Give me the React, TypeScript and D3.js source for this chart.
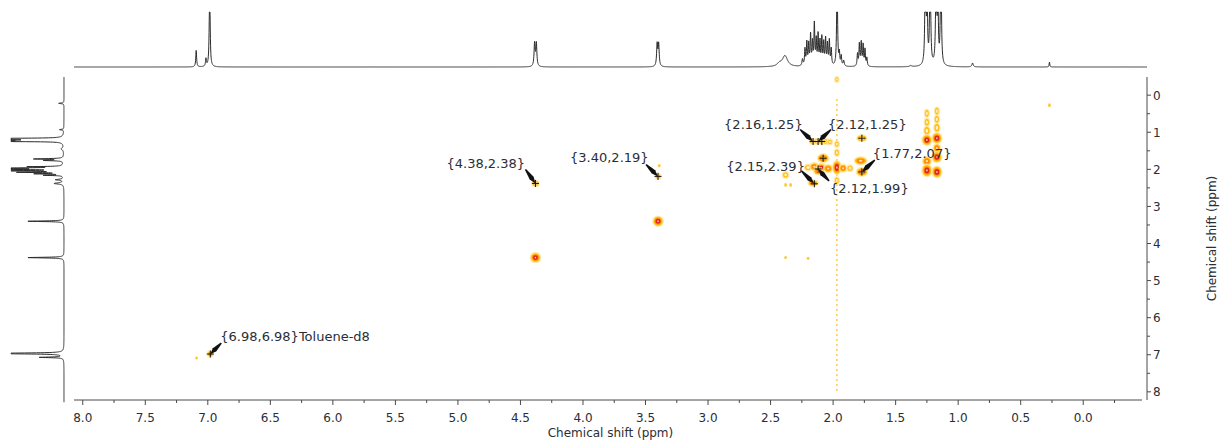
import React, { useMemo } from "react";
import * as d3 from "d3";

const W = 1226;
const H = 443;

// Chemical-shift windows (ppm): F2 runs right-to-left, F1 top-to-bottom
const f2Window: [number, number] = [8.07, -0.51];
const f1Window: [number, number] = [-0.49, 8.22];

const f2TickValues = [8.0, 7.5, 7.0, 6.5, 6.0, 5.5, 5.0, 4.5, 4.0, 3.5, 3.0, 2.5, 2.0, 1.5, 1.0, 0.5, 0.0];
const f2TickLabels = ["8.0", "7.5", "7.0", "6.5", "6.0", "5.5", "5.0", "4.5", "4.0", "3.5", "3.0", "2.5", "2.0", "1.5", "1.0", "0.5", "0.0"];
const f1TickValues = [0, 1, 2, 3, 4, 5, 6, 7, 8];
const f1TickLabels = ["0", "1", "2", "3", "4", "5", "6", "7", "8"];
const axisTitle = "Chemical shift (ppm)";

// 1H trace above the map: [shift ppm, relative height, half-width ppm]
const topTracePeaks: [number, number, number][] = [
  [7.093, 0.3, 0.004],
  [7.015, 0.14, 0.004],
  [6.985, 1.6, 0.004],
  [4.387, 0.42, 0.005],
  [4.373, 0.42, 0.005],
  [3.407, 0.4, 0.005],
  [3.395, 0.4, 0.005],
  [2.43, 0.05, 0.02],
  [2.385, 0.2, 0.025],
  [2.245, 0.12, 0.005],
  [2.225, 0.3, 0.004],
  [2.21, 0.42, 0.004],
  [2.195, 0.38, 0.004],
  [2.18, 0.55, 0.004],
  [2.165, 0.4, 0.004],
  [2.15, 0.75, 0.004],
  [2.135, 0.45, 0.004],
  [2.12, 0.55, 0.004],
  [2.105, 0.42, 0.004],
  [2.09, 0.5, 0.004],
  [2.075, 0.4, 0.004],
  [2.06, 0.48, 0.004],
  [2.045, 0.38, 0.004],
  [2.03, 0.45, 0.004],
  [2.015, 0.3, 0.004],
  [1.968, 1.8, 0.004],
  [1.95, 0.22, 0.004],
  [1.935, 0.18, 0.004],
  [1.915, 0.1, 0.005],
  [1.805, 0.22, 0.004],
  [1.79, 0.4, 0.004],
  [1.775, 0.42, 0.004],
  [1.76, 0.38, 0.004],
  [1.745, 0.3, 0.004],
  [1.73, 0.15, 0.004],
  [1.38, 0.02, 0.01],
  [1.262, 2.5, 0.004],
  [1.248, 1.2, 0.004],
  [1.224, 2.5, 0.004],
  [1.176, 2.5, 0.004],
  [1.162, 1.2, 0.004],
  [1.138, 2.5, 0.004],
  [0.885, 0.07, 0.006],
  [0.27, 0.09, 0.003],
];

// 1H trace beside the map (F1 projection): [shift ppm, relative height, half-width ppm]
const sideTracePeaks: [number, number, number][] = [
  [0.22, 0.1, 0.01],
  [0.93, 0.08, 0.01],
  [1.17, 2.5, 0.006],
  [1.19, 2.5, 0.006],
  [1.22, 2.5, 0.006],
  [1.245, 2.0, 0.006],
  [1.45, 0.05, 0.03],
  [1.72, 0.55, 0.01],
  [1.76, 0.35, 0.01],
  [1.93, 0.6, 0.008],
  [1.97, 2.0, 0.008],
  [2.0, 0.9, 0.008],
  [2.04, 1.3, 0.008],
  [2.08, 0.8, 0.008],
  [2.12, 0.5, 0.008],
  [2.16, 0.35, 0.008],
  [2.28, 0.15, 0.015],
  [2.38, 0.18, 0.02],
  [3.4, 0.68, 0.01],
  [4.38, 0.68, 0.01],
  [6.965, 2.0, 0.01],
  [7.07, 0.45, 0.01],
];

// Cross peaks of the map: [F2 ppm, F1 ppm, contour depth 0..3]
const crossPeaks: [number, number, number][] = [
  [6.98, 6.98, 2], [7.09, 7.09, 0], [4.38, 2.38, 1], [4.38, 4.38, 3],
  [3.4, 3.4, 3], [3.4, 2.19, 1], [3.39, 1.9, 0], [0.27, 0.27, 0],
  [2.38, 4.38, 0], [2.2, 4.4, 0], [1.97, -0.42, 1],
  [2.165, 1.25, 1], [2.13, 1.25, 1], [2.095, 1.25, 1], [2.06, 1.25, 1], [2.025, 1.26, 1],
  [1.77, 1.16, 1], [2.08, 1.7, 2],
  [2.2, 1.95, 1], [2.15, 1.93, 2], [2.095, 1.96, 3], [2.04, 1.98, 2], [2.12, 2.05, 2],
  [1.97, 1.95, 3], [1.92, 1.97, 2], [1.865, 1.97, 1],
  [1.78, 1.77, 2], [1.77, 2.07, 2], [2.16, 2.37, 2], [2.38, 2.15, 1],
  [2.38, 2.42, 0], [2.34, 2.42, 0],
  [1.97, 1.55, 1], [1.97, 1.32, 1], [1.97, 2.3, 1],
  [1.25, 0.49, 1], [1.25, 0.73, 1], [1.25, 0.96, 1], [1.25, 1.21, 3], [1.25, 1.78, 2], [1.25, 2.03, 3],
  [1.17, 0.43, 1], [1.17, 0.65, 1], [1.17, 0.88, 1], [1.17, 1.16, 3], [1.17, 1.43, 2], [1.17, 1.67, 3], [1.17, 2.07, 3],
];

// Half-widths of each cross peak, [F2 ppm, F1 ppm]
const crossPeakWidths: [number, number][] = [
  [0.02, 0.065], [0.008, 0.03], [0.024, 0.07], [0.036, 0.12],
  [0.036, 0.12], [0.018, 0.06], [0.008, 0.03], [0.008, 0.04],
  [0.008, 0.03], [0.008, 0.03], [0.012, 0.06],
  [0.02, 0.06], [0.02, 0.06], [0.02, 0.06], [0.018, 0.06], [0.015, 0.06],
  [0.035, 0.07], [0.04, 0.1],
  [0.025, 0.07], [0.03, 0.09], [0.035, 0.1], [0.03, 0.09], [0.03, 0.08],
  [0.03, 0.17], [0.025, 0.09], [0.02, 0.07],
  [0.045, 0.09], [0.04, 0.1], [0.035, 0.07], [0.02, 0.07],
  [0.008, 0.04], [0.008, 0.04],
  [0.015, 0.08], [0.015, 0.07], [0.015, 0.08],
  [0.014, 0.09], [0.016, 0.09], [0.02, 0.1], [0.035, 0.13], [0.03, 0.1], [0.035, 0.15],
  [0.014, 0.09], [0.016, 0.09], [0.02, 0.1], [0.035, 0.13], [0.025, 0.1], [0.035, 0.13], [0.035, 0.14],
];

// t1 noise ridge of the residual solvent line: [F2 ppm, F1 start, F1 end]
const t1Ridge: [number, number, number] = [1.97, 0.1, 8.05];

// Peak-picked positions shown with "+"
const pickedPeaks: [number, number][] = [
  [4.38, 2.38], [3.4, 2.19], [2.16, 1.25], [2.12, 1.25], [2.09, 1.25],
  [1.77, 1.16], [2.08, 1.7], [2.15, 2.39], [2.12, 1.99], [1.77, 2.07], [6.98, 6.98],
];

// Annotated cross peaks
const annotationShifts: [number, number][] = [
  [4.38, 2.38], [3.4, 2.19], [2.16, 1.25], [2.12, 1.25],
  [2.15, 2.39], [2.12, 1.99], [1.77, 2.07], [6.98, 6.98],
];
const annotationTexts = [
  "{4.38,2.38}", "{3.40,2.19}", "{2.16,1.25}", "{2.12,1.25}",
  "{2.15,2.39}", "{2.12,1.99}", "{1.77,2.07}", "{6.98,6.98}Toluene-d8",
];
// Label placement relative to the peak (px): [textDx, textDy, leaderDx, leaderDy]
const annotationLayout: [number, number, number, number][] = [
  [-89, -15, -10, -14],
  [-88, -14, -12, -12],
  [-89, -13, -13, -12],
  [10, -13, 13, -12],
  [-88, -13, -13, -13],
  [12, 24, 11, 12],
  [11, -14, 13, -12],
  [10, -13, 11, -11],
];

const FONT = "'DejaVu Sans', Verdana, sans-serif";
const TEXT = "#2a2e38";
const AXIS = "#4a4a4a";

const lorentzSum = (peaks: [number, number, number][], p: number) =>
  peaks.reduce((s, [c, h, w]) => s + h / (1 + ((p - c) / w) ** 2), 0);

function Spot({ cx, cy, rx, ry, depth }: { cx: number; cy: number; rx: number; ry: number; depth: number }) {
  if (depth === 0) {
    return <ellipse cx={cx} cy={cy} rx={rx + 0.4} ry={ry + 0.4} fill="#FFC21A" opacity={0.9} />;
  }
  return (
    <g>
      <ellipse cx={cx} cy={cy} rx={rx + 1.3} ry={ry + 1.3} fill="#FFE49A" opacity={0.85} />
      <ellipse cx={cx} cy={cy} rx={rx} ry={ry} fill="#FFBE12" />
      {depth === 1 && <ellipse cx={cx} cy={cy} rx={rx * 0.5} ry={ry * 0.55} fill="#FFF1C8" />}
      {depth >= 2 && <ellipse cx={cx} cy={cy} rx={rx * 0.72} ry={ry * 0.72} fill="#FF8A0A" />}
      {depth === 2 && <ellipse cx={cx} cy={cy} rx={rx * 0.32} ry={ry * 0.3} fill="#FFE0B0" />}
      {depth === 3 && <ellipse cx={cx} cy={cy} rx={rx * 0.55} ry={ry * 0.55} fill="#E3261C" />}
      {depth === 3 && <ellipse cx={cx} cy={cy} rx={rx * 0.18} ry={ry * 0.2} fill="#FFC9C0" />}
    </g>
  );
}

function Leader({ x0, y0, x1, y1 }: { x0: number; y0: number; x1: number; y1: number }) {
  const dx = x1 - x0;
  const dy = y1 - y0;
  const len = Math.hypot(dx, dy);
  const px = -dy / len;
  const py = dx / len;
  const mx = x0 + dx * 0.62;
  const my = y0 + dy * 0.62;
  const pts = [
    [x0 + px * 0.7, y0 + py * 0.7],
    [mx + px * 2.4, my + py * 2.4],
    [x1, y1],
    [mx - px * 2.4, my - py * 2.4],
    [x0 - px * 0.7, y0 - py * 0.7],
  ];
  return <polygon points={pts.map((p) => p.join(",")).join(" ")} fill="#111" />;
}

export default function App() {
  const x = d3.scaleLinear().domain(f2Window).range([74, 1147]);
  const y = d3.scaleLinear().domain(f1Window).range([77, 400]);
  const topH = d3.scaleLinear().domain([0, 1]).range([67, 12]).clamp(true);
  const sideH = d3.scaleLinear().domain([0, 1]).range([64, 11]).clamp(true);

  const topPath = useMemo(() => {
    const pts = d3
      .range(f2Window[0], f2Window[1] - 0.0001, -0.0012)
      .map((p) => [p, lorentzSum(topTracePeaks, p)] as [number, number]);
    return d3
      .line<[number, number]>()
      .x((d) => x(d[0]))
      .y((d) => topH(d[1]))(pts);
  }, []);

  const sidePath = useMemo(() => {
    const pts = d3
      .range(f1Window[0], f1Window[1] + 0.06, 0.002)
      .map((p) => [p, lorentzSum(sideTracePeaks, p)] as [number, number]);
    return d3
      .line<[number, number]>()
      .x((d) => sideH(d[1]))
      .y((d) => y(d[0]))(pts);
  }, []);

  const f2Minor = f2TickValues.map((v) => v - 0.25);
  const f1Minor = f1TickValues.slice(0, -1).map((v) => v + 0.5);

  return (
    <svg width={W} height={H} style={{ position: "absolute", left: 0, top: 0, background: "#fff" }} fontFamily={FONT}>
      <rect width={W} height={H} fill="#fff" />

      {/* 1D traces */}
      <path d={topPath ?? ""} fill="none" stroke="#2b2b2b" strokeWidth={1} />
      <path d={sidePath ?? ""} fill="none" stroke="#2b2b2b" strokeWidth={1} />

      {/* t1 noise ridge */}
      <line
        x1={x(t1Ridge[0])}
        x2={x(t1Ridge[0])}
        y1={y(t1Ridge[1])}
        y2={y(t1Ridge[2])}
        stroke="#FFC53A"
        strokeWidth={1.6}
        strokeDasharray="2.2 2.8"
        opacity={0.85}
      />

      {/* cross peaks */}
      {crossPeaks.map(([f2, f1, depth], i) => (
        <Spot
          key={i}
          cx={x(f2)}
          cy={y(f1)}
          rx={Math.abs(x(f2 + crossPeakWidths[i][0]) - x(f2))}
          ry={Math.abs(y(f1 + crossPeakWidths[i][1]) - y(f1))}
          depth={depth}
        />
      ))}

      {/* peak picks */}
      {pickedPeaks.map(([f2, f1], i) => (
        <g key={i} stroke="#111" strokeWidth={1}>
          <line x1={x(f2) - 3.5} x2={x(f2) + 3.5} y1={y(f1)} y2={y(f1)} />
          <line x1={x(f2)} x2={x(f2)} y1={y(f1) - 3.5} y2={y(f1) + 3.5} />
        </g>
      ))}

      {/* annotations */}
      {annotationShifts.map(([f2, f1], i) => {
        const px = x(f2);
        const py = y(f1);
        const [tdx, tdy, ldx, ldy] = annotationLayout[i];
        return (
          <g key={i}>
            <Leader x0={px + ldx} y0={py + ldy} x1={px} y1={py} />
            <text x={px + tdx} y={py + tdy} fontSize={13} fill={TEXT}>
              {annotationTexts[i]}
            </text>
          </g>
        );
      })}

      {/* bottom axis */}
      <g>
        <line x1={74} x2={1142} y1={400} y2={400} stroke={AXIS} strokeWidth={1} />
        {f2TickValues.map((v, i) => (
          <g key={i}>
            <line x1={x(v)} x2={x(v)} y1={400} y2={405} stroke={AXIS} />
            <text x={x(v)} y={422} fontSize={12} textAnchor="middle" fill={TEXT}>
              {f2TickLabels[i]}
            </text>
          </g>
        ))}
        {f2Minor.map((v, i) => (
          <line key={i} x1={x(v)} x2={x(v)} y1={400} y2={403} stroke={AXIS} />
        ))}
        <text x={(74 + 1147) / 2} y={437} fontSize={12} textAnchor="middle" fill={TEXT}>
          {axisTitle}
        </text>
      </g>

      {/* right axis */}
      <g>
        <line x1={1147} x2={1147} y1={77} y2={400} stroke={AXIS} strokeWidth={1} />
        {f1TickValues.map((v, i) => (
          <g key={i}>
            <line x1={1147} x2={1151} y1={y(v)} y2={y(v)} stroke={AXIS} />
            <text x={1153} y={y(v) + 4.5} fontSize={12} fill={TEXT}>
              {f1TickLabels[i]}
            </text>
          </g>
        ))}
        {f1Minor.map((v, i) => (
          <line key={i} x1={1147} x2={1150} y1={y(v)} y2={y(v)} stroke={AXIS} />
        ))}
        <text
          transform={`translate(1216,${(77 + 400) / 2}) rotate(-90)`}
          fontSize={12}
          textAnchor="middle"
          fill={TEXT}
        >
          {axisTitle}
        </text>
      </g>
    </svg>
  );
}
